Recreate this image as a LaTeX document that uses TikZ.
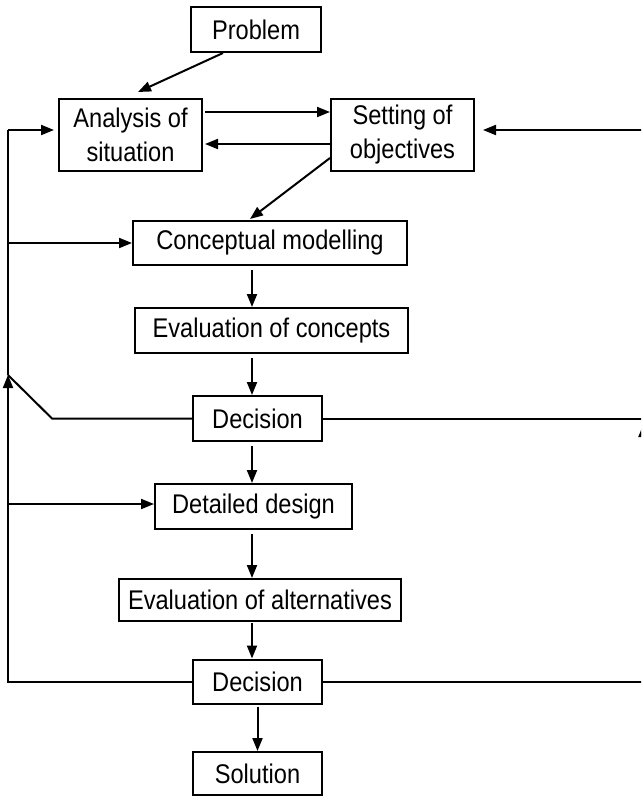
\documentclass[tikz,border=0pt]{standalone}
\usepackage{fontspec}
\setmainfont{Liberation Sans}[FakeStretch=0.875]
\usetikzlibrary{arrows.meta,calc}

\begin{document}
\begin{tikzpicture}[x=1pt,y=-1pt,
  box/.style={draw, line width=2pt, inner sep=0pt, align=center,
    font=\fontsize{27}{34}\selectfont},
  link/.style={line width=2pt},
  arr/.style={link, -{Triangle[length=13pt,width=10pt]}}]
\useasboundingbox (0,0) rectangle (641,796);
\clip (0,0) rectangle (641,796);

% process boxes
\node[box, minimum width=130pt, minimum height=45pt] (prob)    at (256,29.5)   {Problem};
\node[box, minimum width=143pt, minimum height=72pt] (anal)    at (130.5,135)  {Analysis of\\situation};
\node[box, minimum width=143pt, minimum height=72pt] (setobj)  at (402.5,135)  {Setting of\\objectives};
\node[box, minimum width=274pt, minimum height=44pt] (concept) at (270,243)    {Conceptual modelling};
\node[box, minimum width=273pt, minimum height=45pt] (evalc)   at (271.5,330.5){Evaluation of concepts};
\node[box, minimum width=129pt, minimum height=45pt] (dec1)    at (257.5,418.5){Decision};
\node[box, minimum width=197pt, minimum height=45pt] (detail)  at (253.5,506.5){Detailed design};
\node[box, minimum width=282pt, minimum height=42pt] (evala)   at (260,600)    {Evaluation of alternatives};
\node[box, minimum width=129pt, minimum height=44pt] (dec2)    at (257.5,681.5){Decision};
\node[box, minimum width=129pt, minimum height=43pt] (sol)     at (257.5,773.5){Solution};

% routing points
\coordinate (colx) at (252,0);
\coordinate (lt) at (8,130);
\coordinate (lc) at (8,243);
\coordinate (lm) at (8,375);
\coordinate (lk) at (52,418);
\coordinate (ld) at (8,504);
\coordinate (rt) at (643.5,130);
\coordinate (rm) at (643.5,424);

% top part
\draw[arr] ([xshift=-33pt]prob.south) -- ($(anal.north)+(7.5,-6)$);
\draw[arr] ($(anal.east)+(2,-23)$) -- ($(setobj.west)+(0,-23)$);
\draw[arr] ($(setobj.west)+(0,9)$) -- ($(anal.east)+(2,9)$);
\draw[arr] (rt) -- ($(setobj.east)+(8,-5)$);
\draw[arr] ($(setobj.west)+(0,23)$) -- ($(concept.north)+(-20,-1)$);

% main column
\draw[arr, shorten <=4pt] (concept.south -| colx) -- (evalc.north -| colx);
\draw[arr, shorten <=4pt] (evalc.south -| colx) -- (dec1.north -| colx);
\draw[arr, shorten <=4pt] (dec1.south -| colx) -- (detail.north -| colx);
\draw[arr, shorten <=4pt] (detail.south -| colx) -- (evala.north -| colx);
\draw[arr, shorten <=1pt] (evala.south -| colx) -- (dec2.north -| colx);
\draw[arr, shorten <=2pt] (dec2.south) -- (sol.north);

% feedback on the left
\draw[arr] (dec2.west) -- (dec2.west -| lm) -- (lm);
\draw[link] (lm) -- (lt);
\draw[arr, shorten >=4pt] (lt) -- (lt -| anal.west);
\draw[arr] (lc) -- (lc -| concept.west);
\draw[arr] (ld) -- (ld -| detail.west);
\draw[link] (dec1.west) -- (dec1.west -| lk) -- (lm);

% feedback on the right
\draw[arr] (dec2.east) -- (dec2.east -| rm) -- (rm);
\draw[link] (rm) -- (rt);
\draw[link] (dec1.east) -- (dec1.east -| rm);
\end{tikzpicture}
\end{document}
